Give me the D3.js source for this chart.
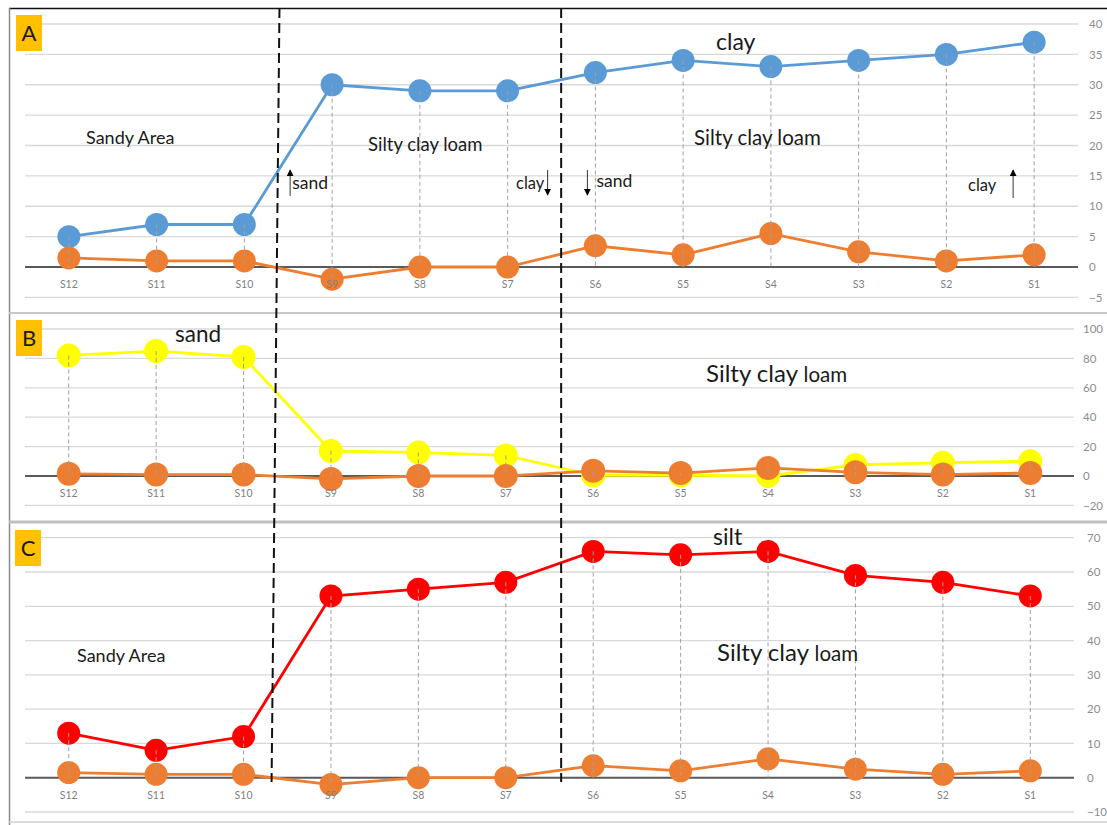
<!DOCTYPE html>
<html>
<head>
<meta charset="utf-8">
<script src="https://cdn.jsdelivr.net/npm/d3@7"></script>
<style>
  body { margin: 0; background: #fff; }
  text { font-family: "Lato", "Open Sans", sans-serif; }
</style>
</head>
<body>
<script>
// sample stations, left to right
var categories = ["S12","S11","S10","S9","S8","S7","S6","S5","S4","S3","S2","S1"];

var clayValues   = [5, 7, 7, 30, 29, 29, 32, 34, 33, 34, 35, 37];
var sandValues   = [82, 85, 81, 17, 16, 14, 0.5, 0.5, 0, 7.5, 9, 10];
var siltValues   = [13, 8, 12, 53, 55, 57, 66, 65, 66, 59, 57, 53];
var orangeValues = [1.5, 1, 1, -2, 0, 0, 3.5, 2, 5.5, 2.5, 1, 2];

var ticksA = [-5, 0, 5, 10, 15, 20, 25, 30, 35, 40];
var ticksB = [-20, 0, 20, 40, 60, 80, 100];
var ticksC = [-10, 0, 10, 20, 30, 40, 50, 60, 70];

var width = 1107, height = 825;

var svg = d3.select("body").append("svg")
    .attr("width", width)
    .attr("height", height);

// frame
svg.append("line").attr("x1", 9).attr("y1", 8.5).attr("x2", width).attr("y2", 8.5)
    .attr("stroke", "#111").attr("stroke-width", 1.5);
svg.append("line").attr("x1", 9.5).attr("y1", 8).attr("x2", 9.5).attr("y2", height)
    .attr("stroke", "#8a8a8a").attr("stroke-width", 1.5);
svg.append("line").attr("x1", 9).attr("y1", 313).attr("x2", width).attr("y2", 313)
    .attr("stroke", "#c8c8c8").attr("stroke-width", 2);
svg.append("line").attr("x1", 9).attr("y1", 522).attr("x2", width).attr("y2", 522)
    .attr("stroke", "#c0c0c0").attr("stroke-width", 3);
svg.append("line").attr("x1", 9).attr("y1", 822).attr("x2", width).attr("y2", 822)
    .attr("stroke", "#d0d0d0").attr("stroke-width", 1.5);

function drawPanel(cfg) {
    var x = d3.scalePoint().domain(categories).range(cfg.xRange).padding(0.5);
    var y = d3.scaleLinear().domain(cfg.domain).range(cfg.yRange);

    var g = svg.append("g").attr("class", "panel");

    // gridlines
    g.selectAll(".grid")
        .data(cfg.ticks.filter(function(t){ return t !== 0; }))
        .enter().append("line")
        .attr("x1", cfg.xRange[0]).attr("x2", cfg.xRange[1])
        .attr("y1", function(d){ return y(d); }).attr("y2", function(d){ return y(d); })
        .attr("stroke", "#d9d9d9").attr("stroke-width", 1.3);

    g.append("line")
        .attr("x1", cfg.xRange[0]).attr("x2", cfg.xRange[1])
        .attr("y1", y(0)).attr("y2", y(0))
        .attr("stroke", "#595959").attr("stroke-width", 2);

    var line = d3.line()
        .x(function(d, i){ return x(categories[i]); })
        .y(function(d){ return y(d); });

    cfg.series.forEach(function(s) {
        g.append("path")
            .datum(s.values)
            .attr("d", line)
            .attr("fill", "none")
            .attr("stroke", s.color)
            .attr("stroke-width", 2.8);
        g.selectAll(null)
            .data(s.values)
            .enter().append("circle")
            .attr("cx", function(d, i){ return x(categories[i]); })
            .attr("cy", function(d){ return y(d); })
            .attr("r", s.r)
            .attr("fill", s.color);
    });

    // drop lines
    g.selectAll(".drop")
        .data(categories)
        .enter().append("line")
        .attr("x1", function(d){ return x(d); })
        .attr("x2", function(d){ return x(d); })
        .attr("y1", function(d, i){
            return y(d3.max(cfg.series, function(s){ return s.values[i]; }));
        })
        .attr("y2", function(d, i){
            return y(Math.min(0, d3.min(cfg.series, function(s){ return s.values[i]; })));
        })
        .attr("stroke", "#a0a0a0")
        .attr("stroke-width", 1)
        .attr("stroke-dasharray", "4,3");

    // category labels
    g.selectAll(".cat")
        .data(categories)
        .enter().append("text")
        .attr("x", function(d){ return x(d); })
        .attr("y", y(0) + 21)
        .attr("text-anchor", "middle")
        .attr("font-size", "10.5px")
        .attr("fill", "#7f7f7f")
        .text(function(d){ return d; });

    // value axis on the right
    var axis = g.append("g")
        .attr("transform", "translate(" + cfg.labelX + ",0)")
        .call(d3.axisRight(y).tickValues(cfg.ticks).tickSize(0).tickPadding(0));
    axis.select(".domain").remove();
    axis.selectAll("text")
        .attr("font-size", "11.5px")
        .attr("fill", "#8c8c8c")
        .style("font-family", "Lato, sans-serif");

    // panel letter
    g.append("rect")
        .attr("x", cfg.box[0]).attr("y", cfg.box[1])
        .attr("width", 26).attr("height", 36)
        .attr("fill", "#ffc000");
    g.append("text")
        .attr("x", cfg.box[0] + 13).attr("y", cfg.box[1] + 26)
        .attr("text-anchor", "middle")
        .attr("font-size", "22px")
        .attr("fill", "#1a1a1a")
        .text(cfg.letter);

    return { x: x, y: y, g: g };
}

var pA = drawPanel({
    letter: "A", box: [16, 15],
    xRange: [25, 1078], yRange: [297.4, 24], domain: [-5, 40], ticks: ticksA, labelX: 1089,
    series: [{ values: clayValues, color: "#5b9bd5", r: 11.5 },
             { values: orangeValues, color: "#ed7d31", r: 11.5 }]
});
var pB = drawPanel({
    letter: "B", box: [16, 320],
    xRange: [25, 1074], yRange: [505.4, 329], domain: [-20, 100], ticks: ticksB, labelX: 1083,
    series: [{ values: sandValues, color: "#ffff00", r: 12 },
             { values: orangeValues, color: "#ed7d31", r: 12 }]
});
var pC = drawPanel({
    letter: "C", box: [15, 530],
    xRange: [25, 1074], yRange: [812, 537.7], domain: [-10, 70], ticks: ticksC, labelX: 1087,
    series: [{ values: siltValues, color: "#ff0000", r: 11.5 },
             { values: orangeValues, color: "#ed7d31", r: 11.5 }]
});

// arrowhead
svg.append("defs").append("marker")
    .attr("id", "head")
    .attr("viewBox", "0 0 10 10")
    .attr("refX", 9).attr("refY", 5)
    .attr("markerWidth", 7).attr("markerHeight", 7)
    .attr("orient", "auto")
    .append("path").attr("d", "M0,0L10,5L0,10z").attr("fill", "#000");

function label(x, y, txt, size, extra) {
    var t = svg.append("text")
        .attr("x", x).attr("y", y)
        .attr("font-size", size + "px")
        .attr("fill", "#1a1a1a")
        .text(txt);
    if (extra) {
        t.append("tspan").attr("font-size", extra[1] + "px").text(extra[0]);
    }
    return t;
}

function arrow(x, yFrom, yTo) {
    svg.append("line")
        .attr("x1", x).attr("y1", yFrom)
        .attr("x2", x).attr("y2", yTo)
        .attr("stroke", "#333").attr("stroke-width", 1)
        .attr("marker-end", "url(#head)");
}

var xa = pA.x, step = xa.step();

// panel A notes
label(86, 144, "Sandy Area", 18);
label(368, 151, "Silty clay loam", 18.5);
label(694, 145, "Silty clay loam", 20.5);
label(716, 50, "clay", 23);
arrow(xa("S9") - 42, 196, 170);
label(xa("S9") - 40, 189, "sand", 17.5);
label(516, 189, "clay", 16.5);
arrow(xa("S7") + 40, 170, 195);
arrow(xa("S6") - 8, 170, 195);
label(xa("S6") + 1, 187, "sand", 17.5);
label(968, 191, "clay", 16.5);
arrow(xa("S1") - 21, 198, 170);

// panel B notes
label(175, 342, "sand", 22.5);
label(706, 382, "Silty clay ", 24, ["loam", 20.5]);

// panel C notes
label(77, 662, "Sandy Area", 18);
label(713, 545, "silt", 23);
label(717, 661, "Silty clay ", 24, ["loam", 20.5]);

// texture boundaries
svg.append("line")
    .attr("x1", xa("S10") + 0.4 * step).attr("y1", 8)
    .attr("x2", xa("S10") + 0.31 * step).attr("y2", 782)
    .attr("stroke", "#111").attr("stroke-width", 2)
    .attr("stroke-dasharray", "10,5");
svg.append("line")
    .attr("x1", xa("S7") + 0.61 * step).attr("y1", 8)
    .attr("x2", xa("S7") + 0.61 * step).attr("y2", 782)
    .attr("stroke", "#111").attr("stroke-width", 2)
    .attr("stroke-dasharray", "10,5");
</script>
</body>
</html>
